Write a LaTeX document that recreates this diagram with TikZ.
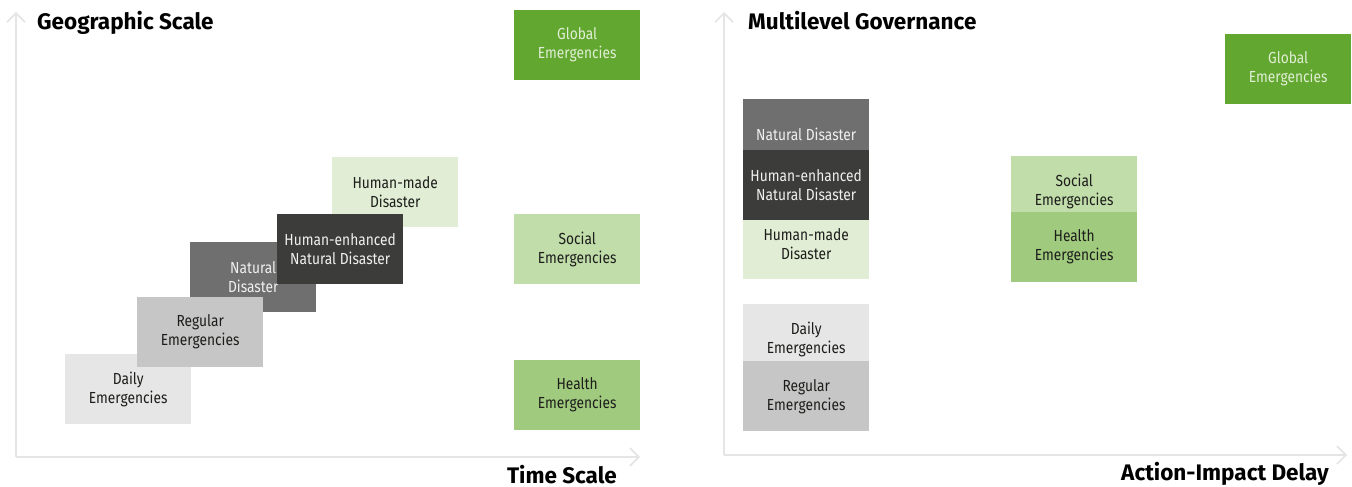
\documentclass[tikz,border=0pt]{standalone}
\usepackage{fontspec}
\setmainfont{Fira Sans}[FakeStretch=0.86]
\newfontfamily\titlefont{Fira Sans}
\usetikzlibrary{arrows.meta, positioning}
\definecolor{emglobal}{HTML}{62A72F}
\definecolor{emsocial}{HTML}{C1DDAA}
\definecolor{emhealth}{HTML}{A0CB7E}
\definecolor{emmade}{HTML}{E1EED5}
\definecolor{emenhanced}{HTML}{3C3C3B}
\definecolor{emnatural}{HTML}{706F6F}
\definecolor{emregular}{HTML}{C6C6C6}
\definecolor{emdaily}{HTML}{E6E6E6}
\definecolor{emaxis}{HTML}{E5E5E5}
\definecolor{emtext}{HTML}{1D1D1B}

\begin{document}
\begin{tikzpicture}[x=1pt, y=-1pt,
      box/.style={rectangle, anchor=north west, inner sep=0pt,
                  minimum width=126pt, minimum height=70pt,
                  align=center, text=emtext,
                  font=\fontsize{16}{19}\selectfont},
      lightbox/.style={box, text=white!94!black},
      ttl/.style={inner sep=0pt, text=black,
                  font=\titlefont\fontsize{22.5}{26}\selectfont\bfseries},
      axis/.style={-{Straight Barb[length=9pt, width=18pt]},
                   line width=1.6pt, emaxis},
    ]
    \useasboundingbox (0,0) rectangle (1352,487);

    % ── Left panel: geographic vs. time scale ──
    \coordinate (lorigin) at (16,457);
    \coordinate (ltop)    at (16,12);
    \coordinate (lright)  at (640,457);
    \draw[axis] (lorigin) -- (ltop);
    \draw[axis] (lorigin) -- (lright);
    \node[ttl, anchor=base west] (geo)  at (37,30)   {Geographic Scale};
    \node[ttl, anchor=base east] (time) at (617,483) {Time Scale};

    \node[box, fill=emmade]  (lmade)  at (332,157) {Human-made\\Disaster};
    \node[lightbox, fill=emnatural] (lnatural) at (190,242) {Natural\\Disaster};
    \node[lightbox, fill=emenhanced] (lenhanced) at (277,214)
          {Human-enhanced\\Natural Disaster};
    \node[box, fill=emdaily]   (ldaily)   at (65,354)  {Daily\\Emergencies};
    \node[box, fill=emregular] (lregular) at (137,297) {Regular\\Emergencies};

    \node[lightbox, fill=emglobal, text=emmade] (lglobal) at (514,10)
          {Global\\Emergencies};
    \node[box, fill=emsocial] (lsocial) at (514,214) {Social\\Emergencies};
    \node[box, fill=emhealth] (lhealth) at (514,360) {Health\\Emergencies};

    % ── Right panel: governance vs. action-impact delay ──
    \coordinate (rorigin) at (724,455);
    \coordinate (rtop)    at (724,12);
    \coordinate (rright)  at (1347,455);
    \draw[axis] (rorigin) -- (rtop);
    \draw[axis] (rorigin) -- (rright);
    \node[ttl, anchor=base west] (gov)   at (748,30)   {Multilevel Governance};
    \node[ttl, anchor=base east] (delay) at (1329,480) {Action-Impact Delay};

    \node[lightbox, fill=emnatural] (rnatural) at (743,99) {Natural Disaster};
    \node[box, fill=emmade] (rmade) at (743,209) {Human-made\\Disaster};
    \node[lightbox, fill=emenhanced] (renhanced) at (743,150)
          {Human-enhanced\\Natural Disaster};
    \node[box, fill=emdaily]   (rdaily)   at (743,304) {Daily\\Emergencies};
    \node[box, fill=emregular] (rregular) at (743,361) {Regular\\Emergencies};

    \node[box, fill=emsocial] (rsocial) at (1011,156) {Social\\Emergencies};
    \node[box, fill=emhealth] (rhealth) at (1011,212) {Health\\Emergencies};
    \node[lightbox, fill=emglobal, text=emmade] (rglobal) at (1225,34)
          {Global\\Emergencies};
  \end{tikzpicture}
\end{document}
